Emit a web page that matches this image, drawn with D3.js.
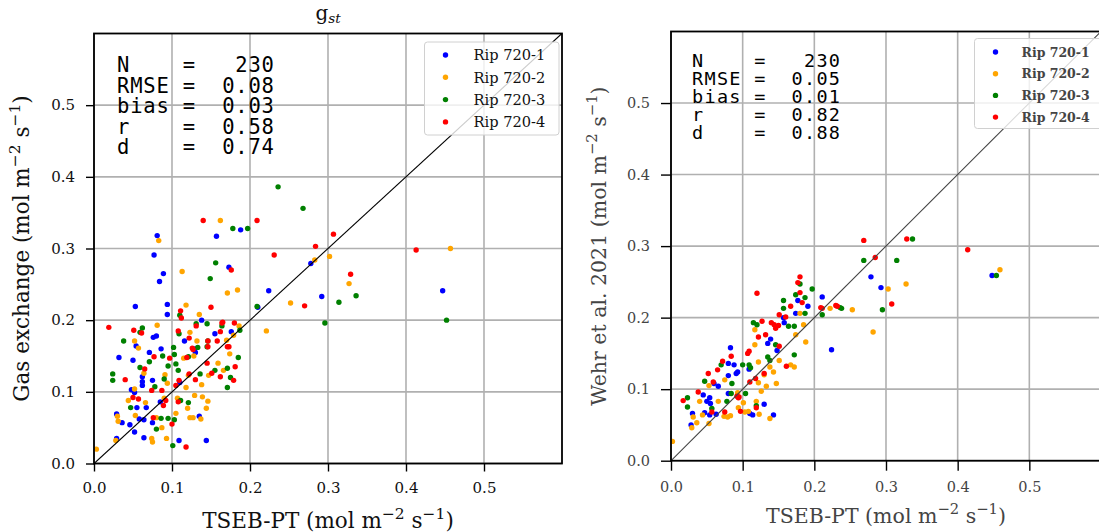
<!DOCTYPE html>
<html>
<head>
<meta charset="utf-8">
<script src="https://cdn.jsdelivr.net/npm/d3@7"></script>
<style>
  body { margin: 0; background: #fff; }
  svg { display: block; }
</style>
</head>
<body>
<div id="chart"></div>
<script>

var seriesNames = ["Rip 720-1", "Rip 720-2", "Rip 720-3", "Rip 720-4"];
var seriesColors = ["#0000ff", "#ffa500", "#008000", "#ff0000"];
var tickValues = [0.0, 0.1, 0.2, 0.3, 0.4, 0.5];

var leftStats = [["N", "230"], ["RMSE", "0.08"], ["bias", "0.03"], ["r", "0.58"], ["d", "0.74"]];
var rightStats = [["N", "230"], ["RMSE", "0.05"], ["bias", "0.01"], ["r", "0.82"], ["d", "0.88"]];

var gasBlue = [[0.081,0.318],[0.157,0.317],[0.188,0.326],[0.077,0.291],[0.173,0.274],[0.089,0.265],[0.084,0.254],
  [0.224,0.241],[0.278,0.279],[0.292,0.233],[0.447,0.241],[0.053,0.219],[0.094,0.222],[0.094,0.208],[0.138,0.200],
  [0.210,0.218],[0.076,0.176],[0.080,0.178],[0.116,0.171],[0.155,0.181],[0.176,0.184],[0.054,0.164],[0.086,0.160],
  [0.129,0.160],[0.130,0.155],[0.032,0.148],[0.050,0.144],[0.071,0.155],[0.062,0.121],[0.062,0.114],[0.062,0.109],
  [0.075,0.116],[0.110,0.113],[0.048,0.103],[0.052,0.099],[0.055,0.078],[0.067,0.078],[0.085,0.086],[0.135,0.066],
  [0.075,0.057],[0.109,0.032],[0.064,0.036],[0.052,0.044],[0.046,0.054],[0.036,0.057],[0.029,0.069],[0.058,0.062],
  [0.064,0.061],[0.029,0.035],[0.144,0.032]];
var gasOrange = [[0.083,0.311],[0.162,0.339],[0.113,0.268],[0.184,0.242],[0.171,0.238],[0.118,0.221],[0.135,0.208],
  [0.186,0.192],[0.081,0.193],[0.052,0.171],[0.057,0.161],[0.123,0.183],[0.179,0.179],[0.170,0.172],[0.221,0.185],
  [0.252,0.224],[0.283,0.284],[0.302,0.289],[0.327,0.251],[0.457,0.300],[0.132,0.171],[0.115,0.147],[0.128,0.150],
  [0.159,0.140],[0.174,0.153],[0.166,0.130],[0.147,0.123],[0.138,0.110],[0.121,0.123],[0.064,0.126],[0.091,0.124],
  [0.094,0.112],[0.052,0.104],[0.044,0.088],[0.066,0.085],[0.090,0.091],[0.118,0.106],[0.107,0.091],[0.120,0.077],
  [0.129,0.095],[0.139,0.093],[0.146,0.087],[0.144,0.077],[0.105,0.070],[0.123,0.064],[0.127,0.064],[0.137,0.062],
  [0.080,0.064],[0.087,0.050],[0.093,0.035],[0.074,0.035],[0.075,0.030],[0.031,0.059],[0.030,0.066],[0.053,0.067],
  [0.028,0.032],[0.003,0.020]];
var gasGreen = [[0.236,0.386],[0.268,0.356],[0.178,0.328],[0.197,0.328],[0.156,0.280],[0.149,0.258],[0.209,0.219],
  [0.110,0.207],[0.131,0.195],[0.145,0.195],[0.314,0.225],[0.336,0.234],[0.296,0.196],[0.452,0.200],[0.062,0.189],
  [0.059,0.183],[0.038,0.171],[0.187,0.186],[0.102,0.162],[0.145,0.163],[0.109,0.181],[0.164,0.192],[0.146,0.171],
  [0.103,0.152],[0.121,0.149],[0.133,0.162],[0.185,0.148],[0.171,0.133],[0.155,0.130],[0.175,0.120],[0.171,0.106],
  [0.136,0.125],[0.071,0.142],[0.088,0.150],[0.059,0.134],[0.078,0.107],[0.090,0.118],[0.024,0.125],[0.024,0.116],
  [0.047,0.078],[0.108,0.130],[0.105,0.139],[0.095,0.136],[0.111,0.088],[0.121,0.085],[0.103,0.061],[0.095,0.063],
  [0.086,0.063],[0.080,0.048],[0.101,0.025]];
var gasRed = [[0.140,0.339],[0.209,0.339],[0.231,0.291],[0.176,0.270],[0.150,0.218],[0.111,0.213],[0.112,0.203],
  [0.131,0.192],[0.164,0.196],[0.180,0.196],[0.284,0.303],[0.307,0.320],[0.329,0.264],[0.270,0.220],[0.413,0.298],
  [0.019,0.190],[0.051,0.186],[0.061,0.182],[0.122,0.175],[0.162,0.184],[0.158,0.171],[0.146,0.171],[0.173,0.163],
  [0.126,0.161],[0.108,0.185],[0.165,0.197],[0.146,0.163],[0.171,0.163],[0.097,0.147],[0.119,0.148],[0.127,0.159],
  [0.145,0.140],[0.181,0.135],[0.151,0.126],[0.162,0.121],[0.179,0.116],[0.130,0.117],[0.122,0.125],[0.077,0.149],
  [0.065,0.132],[0.040,0.117],[0.050,0.092],[0.057,0.090],[0.074,0.102],[0.087,0.102],[0.089,0.081],[0.092,0.088],
  [0.105,0.109],[0.109,0.116],[0.108,0.086],[0.076,0.064],[0.100,0.055],[0.118,0.023]];

var wehrBlue = [[0.211,0.229],[0.177,0.224],[0.191,0.216],[0.174,0.206],[0.157,0.200],[0.139,0.170],[0.279,0.257],
  [0.293,0.242],[0.448,0.259],[0.224,0.155],[0.109,0.128],[0.135,0.164],[0.148,0.154],[0.083,0.158],[0.080,0.136],
  [0.088,0.134],[0.091,0.122],[0.093,0.124],[0.080,0.119],[0.060,0.108],[0.066,0.104],[0.080,0.094],[0.045,0.092],
  [0.050,0.083],[0.054,0.088],[0.055,0.080],[0.047,0.067],[0.054,0.064],[0.030,0.066],[0.028,0.050],[0.063,0.065],
  [0.110,0.066],[0.114,0.064],[0.130,0.079],[0.143,0.064],[0.158,0.193]];
var wehrOrange = [[0.222,0.213],[0.253,0.211],[0.180,0.206],[0.185,0.190],[0.117,0.183],[0.174,0.176],[0.188,0.166],
  [0.303,0.240],[0.328,0.247],[0.282,0.180],[0.459,0.267],[0.167,0.134],[0.172,0.131],[0.151,0.140],[0.143,0.124],
  [0.147,0.108],[0.130,0.120],[0.138,0.131],[0.133,0.104],[0.126,0.097],[0.122,0.109],[0.117,0.162],[0.122,0.138],
  [0.075,0.113],[0.053,0.105],[0.040,0.083],[0.066,0.083],[0.044,0.064],[0.031,0.061],[0.029,0.046],[0.036,0.053],
  [0.053,0.052],[0.074,0.062],[0.079,0.061],[0.083,0.063],[0.094,0.074],[0.103,0.068],[0.108,0.069],[0.119,0.083],
  [0.123,0.065],[0.138,0.059],[0.093,0.095],[0.101,0.081],[0.002,0.027]];
var wehrGreen = [[0.180,0.247],[0.197,0.240],[0.174,0.232],[0.157,0.224],[0.187,0.228],[0.157,0.213],[0.238,0.213],
  [0.187,0.206],[0.211,0.204],[0.115,0.193],[0.120,0.190],[0.164,0.188],[0.172,0.188],[0.269,0.280],[0.337,0.310],
  [0.315,0.280],[0.454,0.259],[0.295,0.211],[0.236,0.214],[0.172,0.148],[0.109,0.134],[0.111,0.130],[0.138,0.140],
  [0.146,0.162],[0.135,0.145],[0.070,0.134],[0.100,0.134],[0.047,0.111],[0.085,0.108],[0.078,0.083],[0.084,0.094],
  [0.023,0.088],[0.023,0.075],[0.057,0.073],[0.119,0.077],[0.104,0.094]];
var wehrRed = [[0.180,0.257],[0.177,0.249],[0.120,0.234],[0.180,0.235],[0.183,0.221],[0.167,0.216],[0.211,0.213],
  [0.232,0.216],[0.151,0.204],[0.160,0.201],[0.127,0.195],[0.140,0.193],[0.144,0.190],[0.150,0.189],[0.146,0.185],
  [0.132,0.176],[0.122,0.173],[0.269,0.308],[0.285,0.284],[0.329,0.310],[0.414,0.295],[0.308,0.219],[0.230,0.217],
  [0.209,0.214],[0.161,0.132],[0.130,0.122],[0.118,0.115],[0.110,0.110],[0.109,0.153],[0.107,0.150],[0.151,0.160],
  [0.084,0.146],[0.072,0.139],[0.065,0.127],[0.052,0.122],[0.059,0.110],[0.092,0.090],[0.094,0.088],[0.038,0.096],
  [0.017,0.084],[0.057,0.068],[0.075,0.068],[0.097,0.069],[0.119,0.074],[0.095,0.089]];

var svgWidth = 1099, svgHeight = 532;
var serif = "'DejaVu Serif', serif";
var mono = "'DejaVu Sans Mono', monospace";

var svg = d3.select("#chart").append("svg")
    .attr("width", svgWidth)
    .attr("height", svgHeight);

// label with superscript units, parts = [text, isSup]
function unitLabel(sel, parts, fs) {
    var shift = 0;
    parts.forEach(function(p) {
        var t = sel.append("tspan").text(p[0]);
        if (p[1]) {
            t.attr("font-size", fs * 0.72).attr("dy", -fs * 0.42 - shift);
            shift = -fs * 0.42;
        } else if (shift !== 0) {
            t.attr("dy", -shift);
            shift = 0;
        }
    });
}

function drawPanel(cfg) {
    var g = svg.append("g");

    var xScale = d3.scaleLinear().domain([0, 0.6]).range([cfg.left, cfg.left + cfg.w]);
    var yScale = d3.scaleLinear().domain([0, 0.6]).range([cfg.top + cfg.h, cfg.top]);

    var clipId = "clip-" + cfg.id;
    svg.append("clipPath").attr("id", clipId)
      .append("rect")
        .attr("x", cfg.left).attr("y", cfg.top)
        .attr("width", cfg.w).attr("height", cfg.h);

    // grid
    g.selectAll(".vgrid").data(tickValues).enter().append("line")
        .attr("x1", d => xScale(d)).attr("x2", d => xScale(d))
        .attr("y1", cfg.top).attr("y2", cfg.top + cfg.h)
        .attr("stroke", "#b0b0b0").attr("stroke-width", 1.6);
    g.selectAll(".hgrid").data(tickValues).enter().append("line")
        .attr("x1", cfg.left).attr("x2", cfg.left + cfg.w)
        .attr("y1", d => yScale(d)).attr("y2", d => yScale(d))
        .attr("stroke", "#b0b0b0").attr("stroke-width", 1.6);

    // points, one series after the other
    var pts = g.append("g").attr("clip-path", "url(#" + clipId + ")");
    cfg.series.forEach(function(data, i) {
        pts.selectAll(".s" + i).data(data).enter().append("circle")
            .attr("cx", d => xScale(d[0]))
            .attr("cy", d => yScale(d[1]))
            .attr("r", 2.7)
            .attr("fill", seriesColors[i]);
    });

    // 1:1 line
    pts.append("line")
        .attr("x1", xScale(0)).attr("y1", yScale(0))
        .attr("x2", xScale(0.6)).attr("y2", yScale(0.6))
        .attr("stroke", cfg.lineColor).attr("stroke-width", 1.1);

    // axes
    var xAxis = d3.axisBottom(xScale).tickValues(tickValues).tickSize(cfg.tickLen).tickPadding(cfg.xPad)
        .tickFormat(d3.format(".1f"));
    var yAxis = d3.axisLeft(yScale).tickValues(tickValues).tickSize(cfg.tickLen).tickPadding(cfg.yPad)
        .tickFormat(d3.format(".1f"));

    var xg = g.append("g").attr("transform", `translate(0, ${cfg.top + cfg.h})`).call(xAxis);
    var yg = g.append("g").attr("transform", `translate(${cfg.left}, 0)`).call(yAxis);
    [xg, yg].forEach(function(a) {
        a.select(".domain").remove();
        a.selectAll(".tick line").attr("stroke", "#000").attr("stroke-width", 1.4);
        a.selectAll(".tick text")
            .attr("font-family", serif)
            .attr("font-size", cfg.tickSize)
            .attr("fill", cfg.textColor);
    });

    // frame
    g.append("rect")
        .attr("x", cfg.left).attr("y", cfg.top)
        .attr("width", cfg.w).attr("height", cfg.h)
        .attr("fill", "none").attr("stroke", "#000").attr("stroke-width", 1.8);

    // stats block
    var st = g.append("text")
        .attr("font-family", mono)
        .attr("font-size", cfg.statSize)
        .attr("letter-spacing", cfg.statSpacing)
        .attr("fill", "#000")
        .style("white-space", "pre");
    cfg.stats.forEach(function(s, i) {
        var line = (s[0] + "     ").slice(0, 5) + "= " + (("     " + s[1]).slice(-5));
        st.append("tspan")
            .attr("x", cfg.statX)
            .attr("y", cfg.statY + i * cfg.statGap)
            .text(line);
    });

    // legend
    var lg = g.append("g");
    lg.append("rect")
        .attr("x", cfg.legX).attr("y", cfg.legY)
        .attr("width", cfg.legW).attr("height", cfg.legH)
        .attr("rx", 3)
        .attr("fill", "#fff").attr("fill-opacity", 0.8)
        .attr("stroke", "#d0d0d0").attr("stroke-width", 1);
    seriesNames.forEach(function(name, i) {
        var cy = cfg.legY + cfg.legFirst + i * cfg.legGap;
        lg.append("circle")
            .attr("cx", cfg.legX + 21).attr("cy", cy).attr("r", 2.7)
            .attr("fill", seriesColors[i]);
        lg.append("text")
            .attr("x", cfg.legX + cfg.legText).attr("y", cy + cfg.legFont * 0.36)
            .attr("font-family", serif)
            .attr("font-size", cfg.legFont)
            .attr("font-weight", cfg.legWeight)
            .attr("fill", cfg.textColor)
            .text(name);
    });

    // axis labels
    var xl = g.append("text")
        .attr("x", cfg.left + cfg.w / 2).attr("y", cfg.xLabelY)
        .attr("text-anchor", "middle")
        .attr("font-family", serif).attr("font-size", cfg.labelSize)
        .attr("fill", cfg.textColor);
    unitLabel(xl, [["TSEB-PT (mol m", 0], ["\u22122", 1], [" s", 0], ["\u22121", 1], [")", 0]], cfg.labelSize);

    var yl = g.append("text")
        .attr("transform", `translate(${cfg.yLabelX}, ${cfg.top + cfg.h / 2}) rotate(-90)`)
        .attr("text-anchor", "middle")
        .attr("font-family", serif).attr("font-size", cfg.labelSize)
        .attr("fill", cfg.textColor);
    unitLabel(yl, [[cfg.yLabel + " (mol m", 0], ["\u22122", 1], [" s", 0], ["\u22121", 1], [")", 0]], cfg.labelSize);

    return g;
}

var left = drawPanel({
    id: "gas", left: 94, top: 33.5, w: 468, h: 430,
    series: [gasBlue, gasOrange, gasGreen, gasRed],
    stats: leftStats, statX: 117, statY: 72, statGap: 20.6, statSize: 20.5, statSpacing: 0.8,
    legX: 424.5, legY: 42, legW: 134.5, legH: 93, legFirst: 13, legGap: 22.3, legText: 49,
    legFont: 14.6, legWeight: "normal",
    tickSize: 15, tickLen: 8, xPad: 11, yPad: 11, labelSize: 21.5, textColor: "#111",
    xLabelY: 528, yLabelX: 29, yLabel: "Gas exchange",
    lineColor: "#000"
});

// title g_st
var title = left.append("text")
    .attr("x", 328).attr("y", 20)
    .attr("text-anchor", "middle")
    .attr("font-family", serif).attr("font-size", 20).attr("fill", "#111");
title.append("tspan").text("g");
title.append("tspan").attr("font-size", 13.5).attr("font-style", "italic").attr("dy", 3).text("st");

drawPanel({
    id: "wehr", left: 671, top: 31.5, w: 430, h: 429.2,
    series: [wehrBlue, wehrOrange, wehrGreen, wehrRed],
    stats: rightStats, statX: 692, statY: 67, statGap: 18, statSize: 18.5, statSpacing: 1.3,
    legX: 974.5, legY: 38.5, legW: 140, legH: 90, legFirst: 13.5, legGap: 21.7, legText: 47,
    legFont: 12.5, legWeight: "bold",
    tickSize: 14.5, tickLen: 10, xPad: 11, yPad: 11, labelSize: 20.5, textColor: "#444",
    xLabelY: 523, yLabelX: 606, yLabel: "Wehr et al. 2021",
    lineColor: "#444"
});

</script>
</body>
</html>
